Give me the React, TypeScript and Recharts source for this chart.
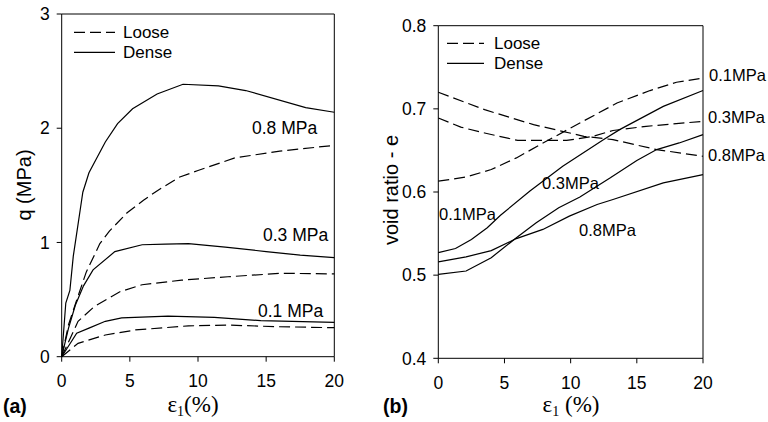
import React from "react";
import { LineChart, Line, XAxis, YAxis, ReferenceLine } from "recharts";

// shared axis ticks
const STRAIN_TICKS = [0, 5, 10, 15, 20];
const Q_TICKS = [0, 1, 2, 3];
const E_TICKS = [0.4, 0.5, 0.6, 0.7, 0.8];

// (a) q (MPa) vs axial strain (%), pairs of [strain, q]
const qLoose01 = [[0, 0], [1.2, 0.117], [3.2, 0.19], [5.4, 0.234], [9.3, 0.27], [12.2, 0.277], [15.6, 0.263], [20, 0.254]];
const qDense01 = [[0, 0], [1.1, 0.205], [2, 0.25], [3.2, 0.31], [4.4, 0.34], [7.8, 0.356], [11.2, 0.345], [14.6, 0.315], [20, 0.3]];
const qLoose03 = [[0, 0], [1.2, 0.31], [2.4, 0.44], [4.3, 0.57], [5.9, 0.63], [8.8, 0.67], [12.2, 0.7], [16.1, 0.73], [20, 0.725]];
const qDense03 = [[0, 0], [0.5, 0.25], [1, 0.45], [1.6, 0.62], [2.3, 0.76], [3.9, 0.92], [5.9, 0.98], [7.6, 0.985], [9.3, 0.99], [12, 0.96], [15, 0.92], [17.5, 0.89], [20, 0.867]];
const qLoose08 = [[0, 0], [0.5, 0.28], [1, 0.46], [1.8, 0.74], [2.8, 0.99], [3.5, 1.1], [4.8, 1.26], [6, 1.37], [7.1, 1.46], [8.6, 1.57], [10, 1.63], [12.7, 1.74], [16, 1.8], [20, 1.85]];
const qDense08 = [[0, 0], [0.3, 0.47], [0.6, 0.58], [0.85, 0.88], [1.1, 1.08], [1.35, 1.28], [1.55, 1.44], [2, 1.61], [3.2, 1.88], [4.1, 2.04], [5.2, 2.17], [7, 2.3], [8.9, 2.385], [11.5, 2.37], [13.5, 2.33], [17.9, 2.18], [20, 2.14]];

// (b) void ratio e vs axial strain (%), pairs of [strain, e]
const eLoose01 = [[0, 0.613], [2.1, 0.618], [4, 0.627], [5.9, 0.641], [7.7, 0.657], [10, 0.677], [13.5, 0.707], [16, 0.722], [18, 0.732], [20, 0.737]];
const eLoose03 = [[0, 0.689], [1.7, 0.678], [3.5, 0.671], [6, 0.662], [9.7, 0.662], [11.7, 0.667], [13.2, 0.674], [15.7, 0.679], [20, 0.685]];
const eLoose08 = [[0, 0.72], [3.5, 0.699], [7.2, 0.681], [11, 0.667], [13.2, 0.663], [16.5, 0.651], [20, 0.643]];
const eDense01 = [[0, 0.527], [1.3, 0.532], [2.5, 0.543], [3.7, 0.557], [4.7, 0.572], [6.9, 0.601], [9.4, 0.631], [12.5, 0.663], [13.7, 0.675], [17, 0.703], [20, 0.722]];
const eDense03 = [[0, 0.501], [2.1, 0.505], [4, 0.521], [5.9, 0.545], [7.4, 0.563], [9.1, 0.581], [10.7, 0.594], [13, 0.617], [15, 0.638], [16.5, 0.651], [18.2, 0.659], [20, 0.669]];
const eDense08 = [[0, 0.516], [2.1, 0.522], [4, 0.5295], [5.9, 0.544], [7.9, 0.555], [9.9, 0.571], [12, 0.585], [13.2, 0.591], [17, 0.611], [20, 0.621]];

const SANS = "'Liberation Sans', Arial, sans-serif";
const SERIF = "'Liberation Serif', 'Times New Roman', serif";
const DASH = "11 5";

const toPts = (arr: number[][]) => arr.map(([x, y]) => ({ x, y }));

type Series = { id: string; pts: number[][]; loose: boolean };

const PANEL_A: Series[] = [
  { id: "l01", pts: qLoose01, loose: true },
  { id: "d01", pts: qDense01, loose: false },
  { id: "l03", pts: qLoose03, loose: true },
  { id: "d03", pts: qDense03, loose: false },
  { id: "l08", pts: qLoose08, loose: true },
  { id: "d08", pts: qDense08, loose: false },
];

const PANEL_B: Series[] = [
  { id: "l01", pts: eLoose01, loose: true },
  { id: "l03", pts: eLoose03, loose: true },
  { id: "l08", pts: eLoose08, loose: true },
  { id: "d01", pts: eDense01, loose: false },
  { id: "d03", pts: eDense03, loose: false },
  { id: "d08", pts: eDense08, loose: false },
];

const tickStyle = { fontSize: 17.5, fill: "#000", fontFamily: SANS };

interface PanelProps {
  left: number;
  margin: { top: number; right: number; bottom: number; left: number };
  yDomain: [number, number];
  yTicks: number[];
  series: Series[];
}

function Panel({ left, margin, yDomain, yTicks, series }: PanelProps) {
  return (
    <div style={{ position: "absolute", left, top: 0 }}>
      <LineChart width={384} height={422} margin={margin}>
        <XAxis
          type="number"
          dataKey="x"
          domain={[0, 20]}
          ticks={STRAIN_TICKS}
          height={30}
          stroke="#000"
          tickSize={5}
          tickMargin={13}
          tick={tickStyle}
          allowDuplicatedCategory={false}
        />
        <YAxis
          type="number"
          domain={yDomain}
          ticks={yTicks}
          width={40}
          stroke="#000"
          tickSize={5}
          tickMargin={7}
          tick={tickStyle}
        />
        <ReferenceLine y={yDomain[1]} stroke="#000" strokeWidth={1} />
        <ReferenceLine x={20} stroke="#000" strokeWidth={1} />
        {series.map((s) => (
          <Line
            key={s.id}
            data={toPts(s.pts)}
            dataKey="y"
            type="linear"
            stroke="#000"
            strokeWidth={1.2}
            strokeDasharray={s.loose ? DASH : undefined}
            dot={false}
            activeDot={false}
            isAnimationActive={false}
          />
        ))}
      </LineChart>
    </div>
  );
}

function Legend({ x1, x2, y, textX }: { x1: number; x2: number; y: number; textX: number }) {
  return (
    <g fontFamily={SANS} fontSize={17} fill="#000">
      <line x1={x1} x2={x2} y1={y} y2={y} stroke="#000" strokeWidth={1.2} strokeDasharray={DASH} />
      <text x={textX} y={y} dominantBaseline="central">Loose</text>
      <line x1={x1} x2={x2} y1={y + 20} y2={y + 20} stroke="#000" strokeWidth={1.2} />
      <text x={textX} y={y + 20} dominantBaseline="central">Dense</text>
    </g>
  );
}

export default function App() {
  return (
    <div
      style={{
        position: "absolute",
        left: 0,
        top: 0,
        width: 768,
        height: 422,
        background: "#fff",
        fontFamily: SANS,
      }}
    >
      <Panel
        left={0}
        margin={{ top: 14, right: 49.7, bottom: 35.3, left: 21.7 }}
        yDomain={[0, 3]}
        yTicks={Q_TICKS}
        series={PANEL_A}
      />
      <Panel
        left={384}
        margin={{ top: 25.7, right: 65, bottom: 33.7, left: 14.3 }}
        yDomain={[0.4, 0.8]}
        yTicks={E_TICKS}
        series={PANEL_B}
      />

      <svg
        width={768}
        height={422}
        style={{ position: "absolute", left: 0, top: 0, pointerEvents: "none" }}
      >
        {/* panel (a) */}
        <Legend x1={74} x2={115} y={32.3} textX={123} />
        <g fontFamily={SANS} fontSize={17.5} fill="#000" dominantBaseline="central">
          <text x={252} y={127.7}>0.8 MPa</text>
          <text x={263} y={235}>0.3 MPa</text>
          <text x={258} y={310.7}>0.1 MPa</text>
        </g>
        <text
          transform="translate(24,185) rotate(-90)"
          textAnchor="middle"
          dominantBaseline="central"
          fontFamily={SANS}
          fontSize={20}
        >
          q (MPa)
        </text>
        <text x={193} y={412} textAnchor="middle" fontFamily={SERIF} fontSize={23}>
          ε<tspan fontSize={14} dy={4}>1</tspan>
          <tspan dy={-4}>(%)</tspan>
        </text>
        <text x={3} y={406} dominantBaseline="central" fontFamily={SANS} fontSize={19.5} fontWeight="bold">
          (a)
        </text>

        {/* panel (b) */}
        <Legend x1={447} x2={484} y={43.3} textX={494} />
        <g fontFamily={SANS} fontSize={16.5} fill="#000" dominantBaseline="central">
          <text x={709} y={75}>0.1MPa</text>
          <text x={708} y={116.7}>0.3MPa</text>
          <text x={708} y={155}>0.8MPa</text>
          <text x={542} y={183.3}>0.3MPa</text>
          <text x={439} y={214}>0.1MPa</text>
          <text x={579} y={230}>0.8MPa</text>
        </g>
        <text
          transform="translate(391,190) rotate(-90)"
          textAnchor="middle"
          dominantBaseline="central"
          fontFamily={SANS}
          fontSize={20}
        >
          void ratio - e
        </text>
        <text x={571} y={412} textAnchor="middle" fontFamily={SERIF} fontSize={23}>
          ε<tspan fontSize={14} dy={4}>1</tspan>
          <tspan dy={-4}> (%)</tspan>
        </text>
        <text x={383} y={406} dominantBaseline="central" fontFamily={SANS} fontSize={19.5} fontWeight="bold">
          (b)
        </text>
      </svg>
    </div>
  );
}
